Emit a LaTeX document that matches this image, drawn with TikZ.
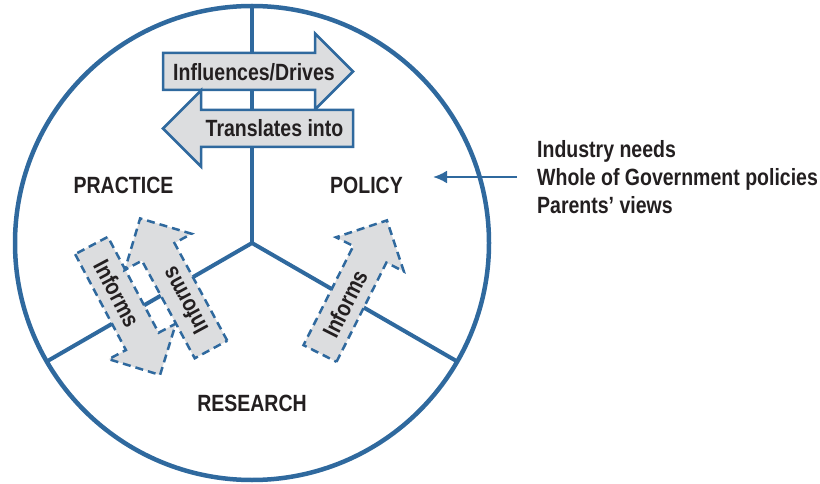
\documentclass[tikz,border=0pt]{standalone}
\usepackage{fontspec}
\setmainfont{Liberation Sans}[FakeStretch=0.83]
\usetikzlibrary{arrows.meta}

\definecolor{ringblue}{RGB}{47,105,158}
\definecolor{arrowgray}{RGB}{220,221,223}
\definecolor{inkgray}{RGB}{35,31,32}

\def\shaftw{18.5}
\def\headw{38}
\def\headl{38}

% a flat block arrow along the x axis, tail at the origin
\tikzset{
  pics/block arrow/.style={code={
    \path[pic actions] (0,-\shaftw) -- ({#1-\headl},-\shaftw) -- ({#1-\headl},-\headw)
      -- (#1,0) -- ({#1-\headl},\headw) -- ({#1-\headl},\shaftw) -- (0,\shaftw) -- cycle;
    \coordinate (-mid) at ({(#1-\headl)/2},0);
  }}
}

\begin{document}
\begin{tikzpicture}[x=1pt,y=1pt]
    \tikzstyle{sector}=[font=\fontsize{23.5}{28}\selectfont\bfseries, text=inkgray, inner sep=0pt]
    \tikzstyle{arrow label}=[sector]
    \tikzstyle{divider}=[draw=ringblue, line width=4pt]
    \tikzstyle{solid block}=[draw=ringblue, fill=arrowgray, line width=2.5pt, line join=miter]
    \tikzstyle{dashed block}=[solid block, dashed, dash pattern=on 8pt off 5pt]
    \tikzstyle{feed}=[draw=ringblue, line width=2.5pt, -{Latex[length=14pt,width=13pt]}]

    \useasboundingbox (0,0) rectangle (820,-484);

    % Draw the ring and its three sectors
    \node[draw=ringblue, line width=4.5pt, circle, minimum size=474pt, inner sep=0pt, outer sep=0pt]
        (ring) at (252,-243) {};
    \foreach \a in {90,210,330}
        \draw[divider] (ring.center) -- (ring.\a);

    % Sector names
    \node[sector] (practice) at (123.5,-185) {PRACTICE};
    \node[sector] (policy) at (366.5,-185) {POLICY};
    \node[sector] (research) at (252,-403) {RESEARCH};

    % Practice <-> policy arrows at the top
    \pic[solid block] (drives) at (163,-71.5) {block arrow=190};
    \pic[solid block, rotate=180] (translates) at (353,-128.5) {block arrow=190};
    \node[arrow label] (drives-text) at (254,-72) {Influences/Drives};
    \node[arrow label] (translates-text) at (274.5,-128.5) {Translates into};

    % Research arrows
    \pic[dashed block, rotate=-62.1] (down) at (91.5,-245.5) {block arrow=146.5};
    \pic[dashed block, rotate=118.4] (up) at (211,-349.5) {block arrow=149};
    \pic[dashed block, rotate=63.3] (right) at (320,-353.5) {block arrow=149};
    \node[arrow label, rotate=-62.1] (down-text) at (down-mid) {Informs};
    \node[arrow label, rotate=118.4] (up-text) at (up-mid) {Informs};
    \node[arrow label, rotate=63.3] (right-text) at (right-mid) {Informs};

    % Outside influences on policy
    \node[sector, anchor=west, align=left] (needs) at (537,-177)
        {Industry needs\\Whole of Government policies\\Parents’ views};
    \coordinate (policy-in) at (433,-177);
    \draw[feed] ([xshift=-20pt]needs.west) -- (policy-in);
\end{tikzpicture}
\end{document}
